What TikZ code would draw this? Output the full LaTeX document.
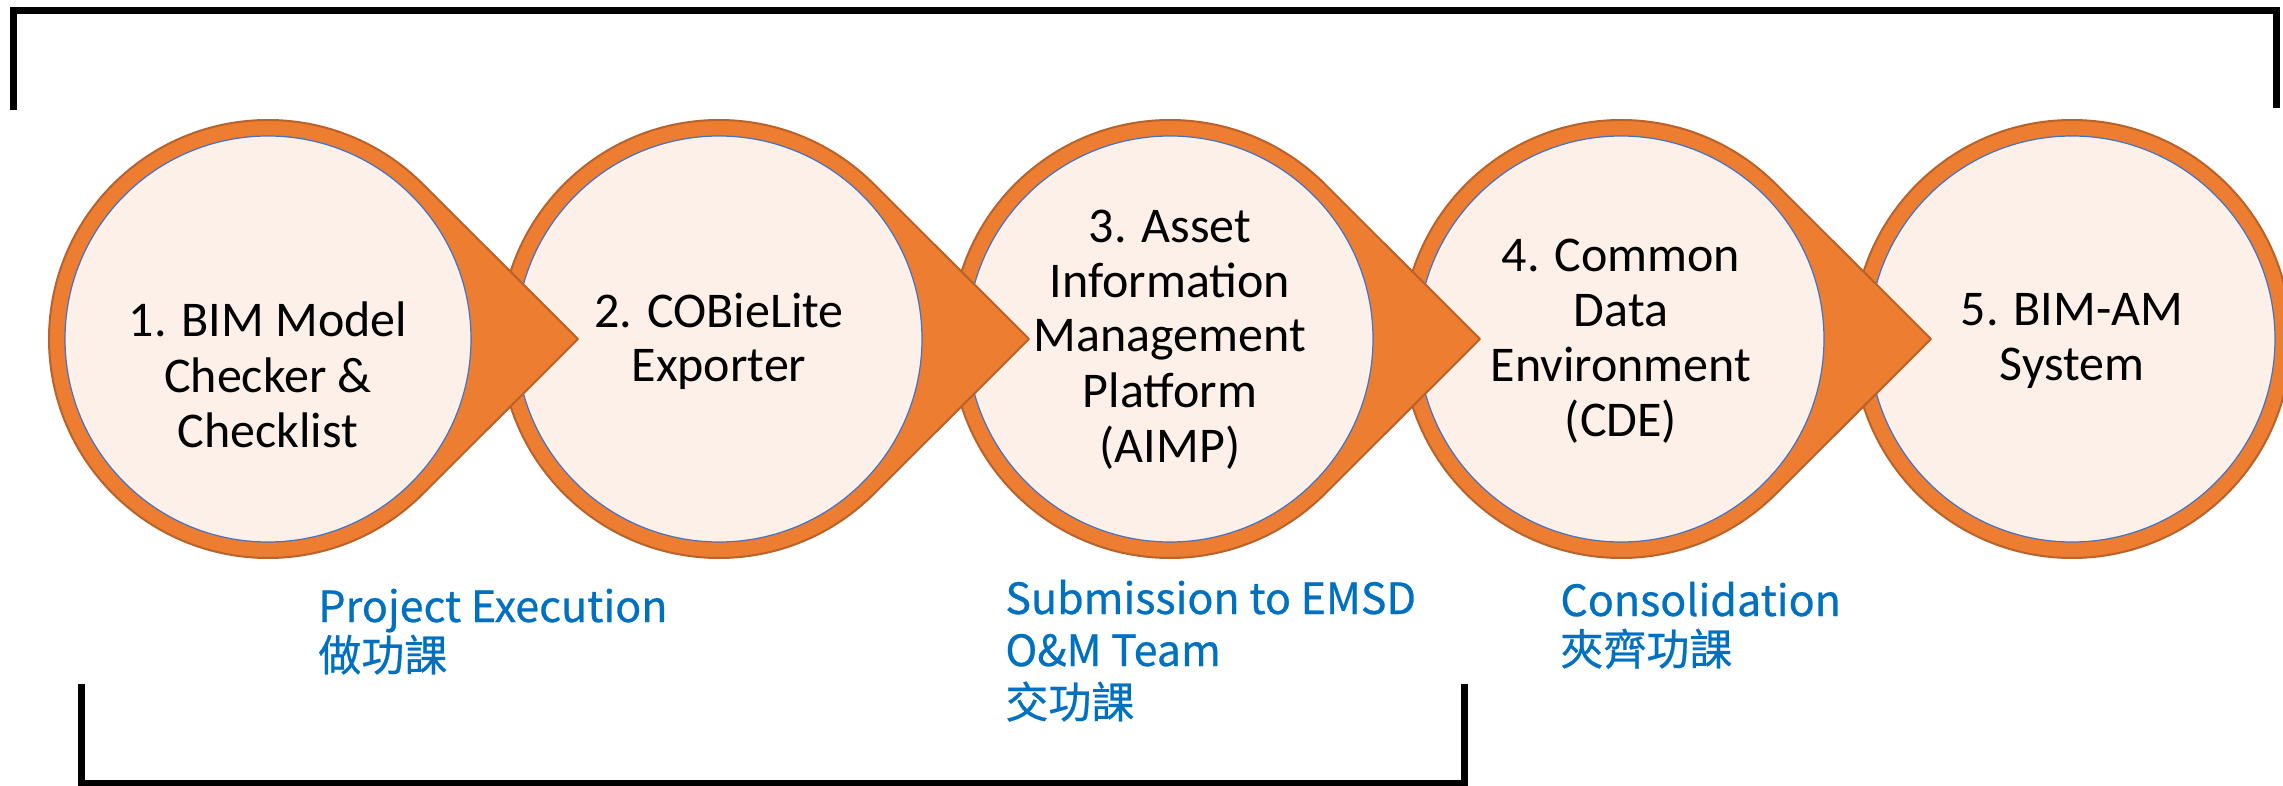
\documentclass[tikz,border=0pt]{standalone}
\usepackage{fontspec}
\setmainfont{Carlito}
\newfontfamily\cjkfont[FakeBold=0.6]{Noto Sans CJK TC}
\usetikzlibrary{calc}
\definecolor{ringorange}{HTML}{ED7D31}
\definecolor{ringedge}{HTML}{B9622A}
\definecolor{innerfill}{HTML}{FDF0E9}
\definecolor{innerblue}{HTML}{4472C4}
\definecolor{labelblue}{HTML}{0070C0}
\begin{document}
\begin{tikzpicture}[x=0.5pt,y=-0.5pt,
  ring/.style={fill=ringorange, draw=ringedge, line width=1pt, line join=round},
  innercirc/.style={circle, fill=innerfill, draw=innerblue, line width=0.6pt,
    minimum size=203pt, inner sep=0pt},
  stagetext/.style={align=center, text=black, inner sep=0pt,
    font=\fontsize{25pt}{27.5pt}\selectfont},
  bluelab/.style={align=left, text=labelblue, inner sep=0pt, anchor=base west},
  bracket/.style={draw=black, line width=3.5pt, line join=miter}
]
\useasboundingbox (0,0) rectangle (2283,786);
\fill[white] (0,0) rectangle (2283,786);

% brackets
\coordinate (ta) at (13,110);
\coordinate (tb) at (13,10.5);
\coordinate (tc) at (2276,10.5);
\coordinate (td) at (2276,108);
\draw[bracket] (ta) -- (tb) -- (tc) -- (td);
\coordinate (ba) at (81.5,684);
\coordinate (bb) at (81.5,783);
\coordinate (bc) at (1464,783);
\coordinate (bd) at (1464,684);
\draw[bracket] (ba) -- (bb) -- (bc) -- (bd);

% centres
\coordinate (p1) at (268,339);
\coordinate (p2) at (719,339);
\coordinate (p3) at (1170,339);
\coordinate (p4) at (1621,339);
\coordinate (p5) at (2072,339);

% stage 5
\draw[ring] (p5) circle[radius=219];
\node[innercirc] (c5) at (p5) {};
\node[stagetext, anchor=base] (t5) at (2072,380) {5. BIM-AM\\System};

% stage 4
\draw[ring] ($(p4)+(310,0)$) -- ($(p4)+(45:219)$) arc[start angle=45, end angle=315, radius=219] -- cycle;
\node[innercirc] (c4) at (p4) {};
\node[stagetext, anchor=base] (t4) at (1621,437) {4. Common\\Data\\Environment\\(CDE)};

% stage 3
\draw[ring] ($(p3)+(310,0)$) -- ($(p3)+(45:219)$) arc[start angle=45, end angle=315, radius=219] -- cycle;
\node[innercirc] (c3) at (p3) {};
\node[stagetext, anchor=base] (t3) at (1170,462) {3. Asset\\Information\\Management\\Platform\\(AIMP)};

% stage 2
\draw[ring] ($(p2)+(310,0)$) -- ($(p2)+(45:219)$) arc[start angle=45, end angle=315, radius=219] -- cycle;
\node[innercirc] (c2) at (p2) {};
\node[stagetext, anchor=base] (t2) at (719,382) {2. COBieLite\\Exporter};

% stage 1
\draw[ring] ($(p1)+(310,0)$) -- ($(p1)+(45:219)$) arc[start angle=45, end angle=315, radius=219] -- cycle;
\node[innercirc] (c1) at (p1) {};
\node[stagetext, anchor=base] (t1) at (268,447) {1. BIM Model\\Checker \&\\Checklist};

% phase labels
\node[bluelab, font=\cjkfont\fontsize{21.5pt}{24.5pt}\selectfont] (l1) at (318,671) {Project Execution\\做功課};
\node[bluelab, font=\cjkfont\fontsize{21.5pt}{26pt}\selectfont] (l2) at (1005,718) {Submission to EMSD\\O\&M Team\\交功課};
\node[bluelab, font=\cjkfont\fontsize{21.5pt}{24.5pt}\selectfont] (l3) at (1560,665) {Consolidation\\夾齊功課};
\end{tikzpicture}
\end{document}
